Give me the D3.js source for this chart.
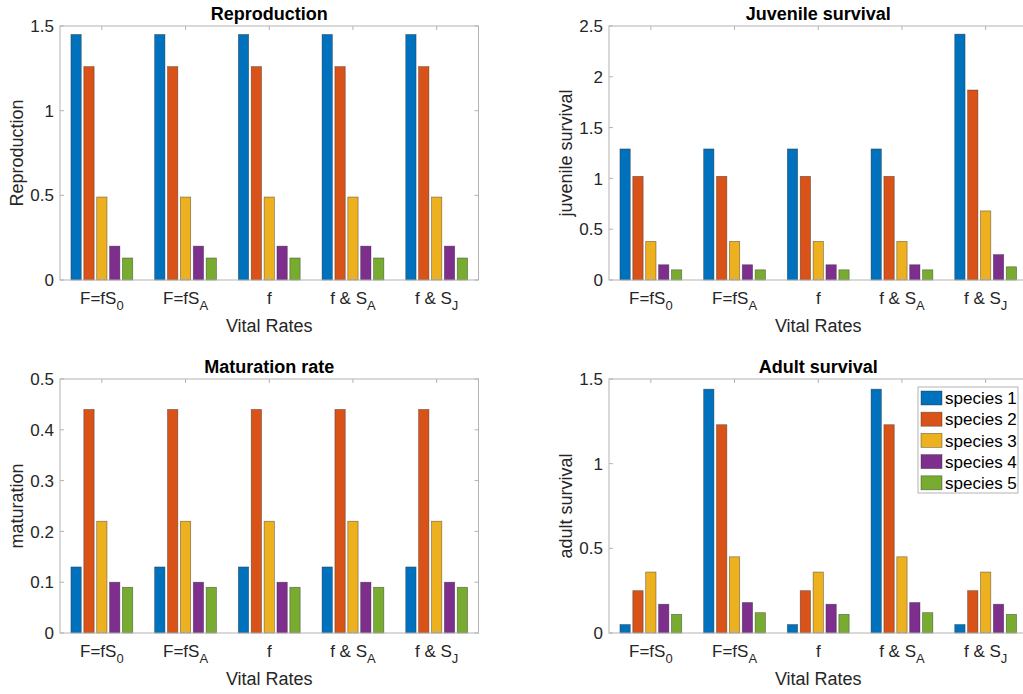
<!DOCTYPE html>
<html>
<head>
<meta charset="utf-8">
<script src="https://cdn.jsdelivr.net/npm/d3@7"></script>
<style>
  body { margin: 0; background: #fff; }
  svg { font-family: "Liberation Sans", Arial, Helvetica, sans-serif; }
</style>
</head>
<body>
<svg id="chart" width="1023" height="694"></svg>
<script>
// categories (base text + subscript)
var catBase = ["F=fS", "F=fS", "f", "f & S", "f & S"];
var catSub = ["0", "A", "", "A", "J"];
var species = ["species 1", "species 2", "species 3", "species 4", "species 5"];
var colors = ["#0072BD", "#D95319", "#EDB120", "#7E2F8E", "#77AC30"];

// values per category, one entry per species
var reproduction = [
  [1.45, 1.26, 0.49, 0.20, 0.13],
  [1.45, 1.26, 0.49, 0.20, 0.13],
  [1.45, 1.26, 0.49, 0.20, 0.13],
  [1.45, 1.26, 0.49, 0.20, 0.13],
  [1.45, 1.26, 0.49, 0.20, 0.13]
];
var juvenile = [
  [1.29, 1.02, 0.38, 0.15, 0.10],
  [1.29, 1.02, 0.38, 0.15, 0.10],
  [1.29, 1.02, 0.38, 0.15, 0.10],
  [1.29, 1.02, 0.38, 0.15, 0.10],
  [2.42, 1.87, 0.68, 0.25, 0.13]
];
var maturation = [
  [0.13, 0.44, 0.22, 0.10, 0.09],
  [0.13, 0.44, 0.22, 0.10, 0.09],
  [0.13, 0.44, 0.22, 0.10, 0.09],
  [0.13, 0.44, 0.22, 0.10, 0.09],
  [0.13, 0.44, 0.22, 0.10, 0.09]
];
var adult = [
  [0.05, 0.25, 0.36, 0.17, 0.11],
  [1.44, 1.23, 0.45, 0.18, 0.12],
  [0.05, 0.25, 0.36, 0.17, 0.11],
  [1.44, 1.23, 0.45, 0.18, 0.12],
  [0.05, 0.25, 0.36, 0.17, 0.11]
];

var repTicks = [0, 0.5, 1, 1.5];
var juvTicks = [0, 0.5, 1, 1.5, 2, 2.5];
var matTicks = [0, 0.1, 0.2, 0.3, 0.4, 0.5];
var adTicks = [0, 0.5, 1, 1.5];

var svg = d3.select("#chart");
var boxColor = "#b3b3b3";
var textColor = "#262626";

function drawPanel(data, ticks, title, ylabel, left, top, legend) {
  var w = 418.5, h = 254;
  var g = svg.append("g").attr("transform", "translate(" + left + "," + top + ")");

  var x0 = d3.scaleBand().domain(d3.range(catBase.length)).range([0, w]);
  var gw = x0.bandwidth() * 0.769;
  var x1 = d3.scaleBand().domain(d3.range(species.length))
    .range([0, gw]).paddingInner(0.2).paddingOuter(0.1);
  var y = d3.scaleLinear().domain([ticks[0], ticks[ticks.length - 1]]).range([h, 0]);

  // bars
  var groups = g.selectAll("g.grp")
    .data(data)
    .enter()
    .append("g")
    .attr("transform", function(d, i){
      return "translate(" + (x0(i) + (x0.bandwidth() - gw) / 2) + ",0)";
    });
  groups.selectAll("rect")
    .data(function(d){ return d; })
    .enter()
    .append("rect")
    .attr("x", function(d, j){ return x1(j); })
    .attr("y", function(d){ return y(d); })
    .attr("width", x1.bandwidth())
    .attr("height", function(d){ return y(0) - y(d); })
    .attr("fill", function(d, j){ return colors[j]; })
    .attr("stroke", "rgba(40,40,40,0.55)")
    .attr("stroke-width", 0.7);

  // box
  g.append("rect").attr("width", w).attr("height", h)
    .attr("fill", "none").attr("stroke", boxColor).attr("stroke-width", 1);

  // ticks
  var tl = 4;
  ticks.forEach(function(t){
    g.append("line").attr("x1", 0).attr("x2", tl).attr("y1", y(t)).attr("y2", y(t)).attr("stroke", boxColor);
    g.append("line").attr("x1", w).attr("x2", w - tl).attr("y1", y(t)).attr("y2", y(t)).attr("stroke", boxColor);
    g.append("text").attr("x", -6).attr("y", y(t)).attr("dy", "0.36em")
      .attr("text-anchor", "end").attr("font-size", 17).attr("fill", textColor)
      .text(d3.format("~g")(t));
  });
  catBase.forEach(function(c, i){
    var cx = x0(i) + x0.bandwidth() / 2;
    g.append("line").attr("x1", cx).attr("x2", cx).attr("y1", h).attr("y2", h - tl).attr("stroke", boxColor);
    g.append("line").attr("x1", cx).attr("x2", cx).attr("y1", 0).attr("y2", tl).attr("stroke", boxColor);
    var t = g.append("text").attr("x", cx).attr("y", h + 24)
      .attr("text-anchor", "middle").attr("font-size", 17).attr("fill", textColor);
    t.append("tspan").text(c);
    if (catSub[i]) t.append("tspan").attr("dy", 6).attr("font-size", 13).text(catSub[i]);
  });

  // labels
  g.append("text").attr("x", w / 2).attr("y", -6).attr("text-anchor", "middle")
    .attr("font-size", 18).attr("font-weight", "bold").attr("fill", "#000").text(title);
  g.append("text").attr("x", w / 2).attr("y", h + 52).attr("text-anchor", "middle")
    .attr("font-size", 18).attr("fill", textColor).text("Vital Rates");
  g.append("text").attr("transform", "translate(-37," + (h / 2) + ") rotate(-90)")
    .attr("text-anchor", "middle").attr("font-size", 18).attr("fill", textColor).text(ylabel);

  if (legend) {
    var lg = svg.append("g").attr("transform", "translate(918,387)");
    lg.append("rect").attr("width", 100).attr("height", 106)
      .attr("fill", "#fff").attr("stroke", boxColor);
    species.forEach(function(s, j){
      lg.append("rect").attr("x", 3).attr("y", 4 + j * 21.2).attr("width", 21).attr("height", 14)
        .attr("fill", colors[j]).attr("stroke", "rgba(40,40,40,0.55)").attr("stroke-width", 0.7);
      lg.append("text").attr("x", 27).attr("y", 11 + j * 21.2).attr("dy", "0.36em")
        .attr("font-size", 17).attr("fill", "#000").text(s);
    });
  }
}

drawPanel(reproduction, repTicks, "Reproduction", "Reproduction", 60, 26, false);
drawPanel(juvenile, juvTicks, "Juvenile survival", "juvenile survival", 609, 26, false);
drawPanel(maturation, matTicks, "Maturation rate", "maturation", 60, 379, false);
drawPanel(adult, adTicks, "Adult survival", "adult survival", 609, 379, true);
</script>
</body>
</html>
